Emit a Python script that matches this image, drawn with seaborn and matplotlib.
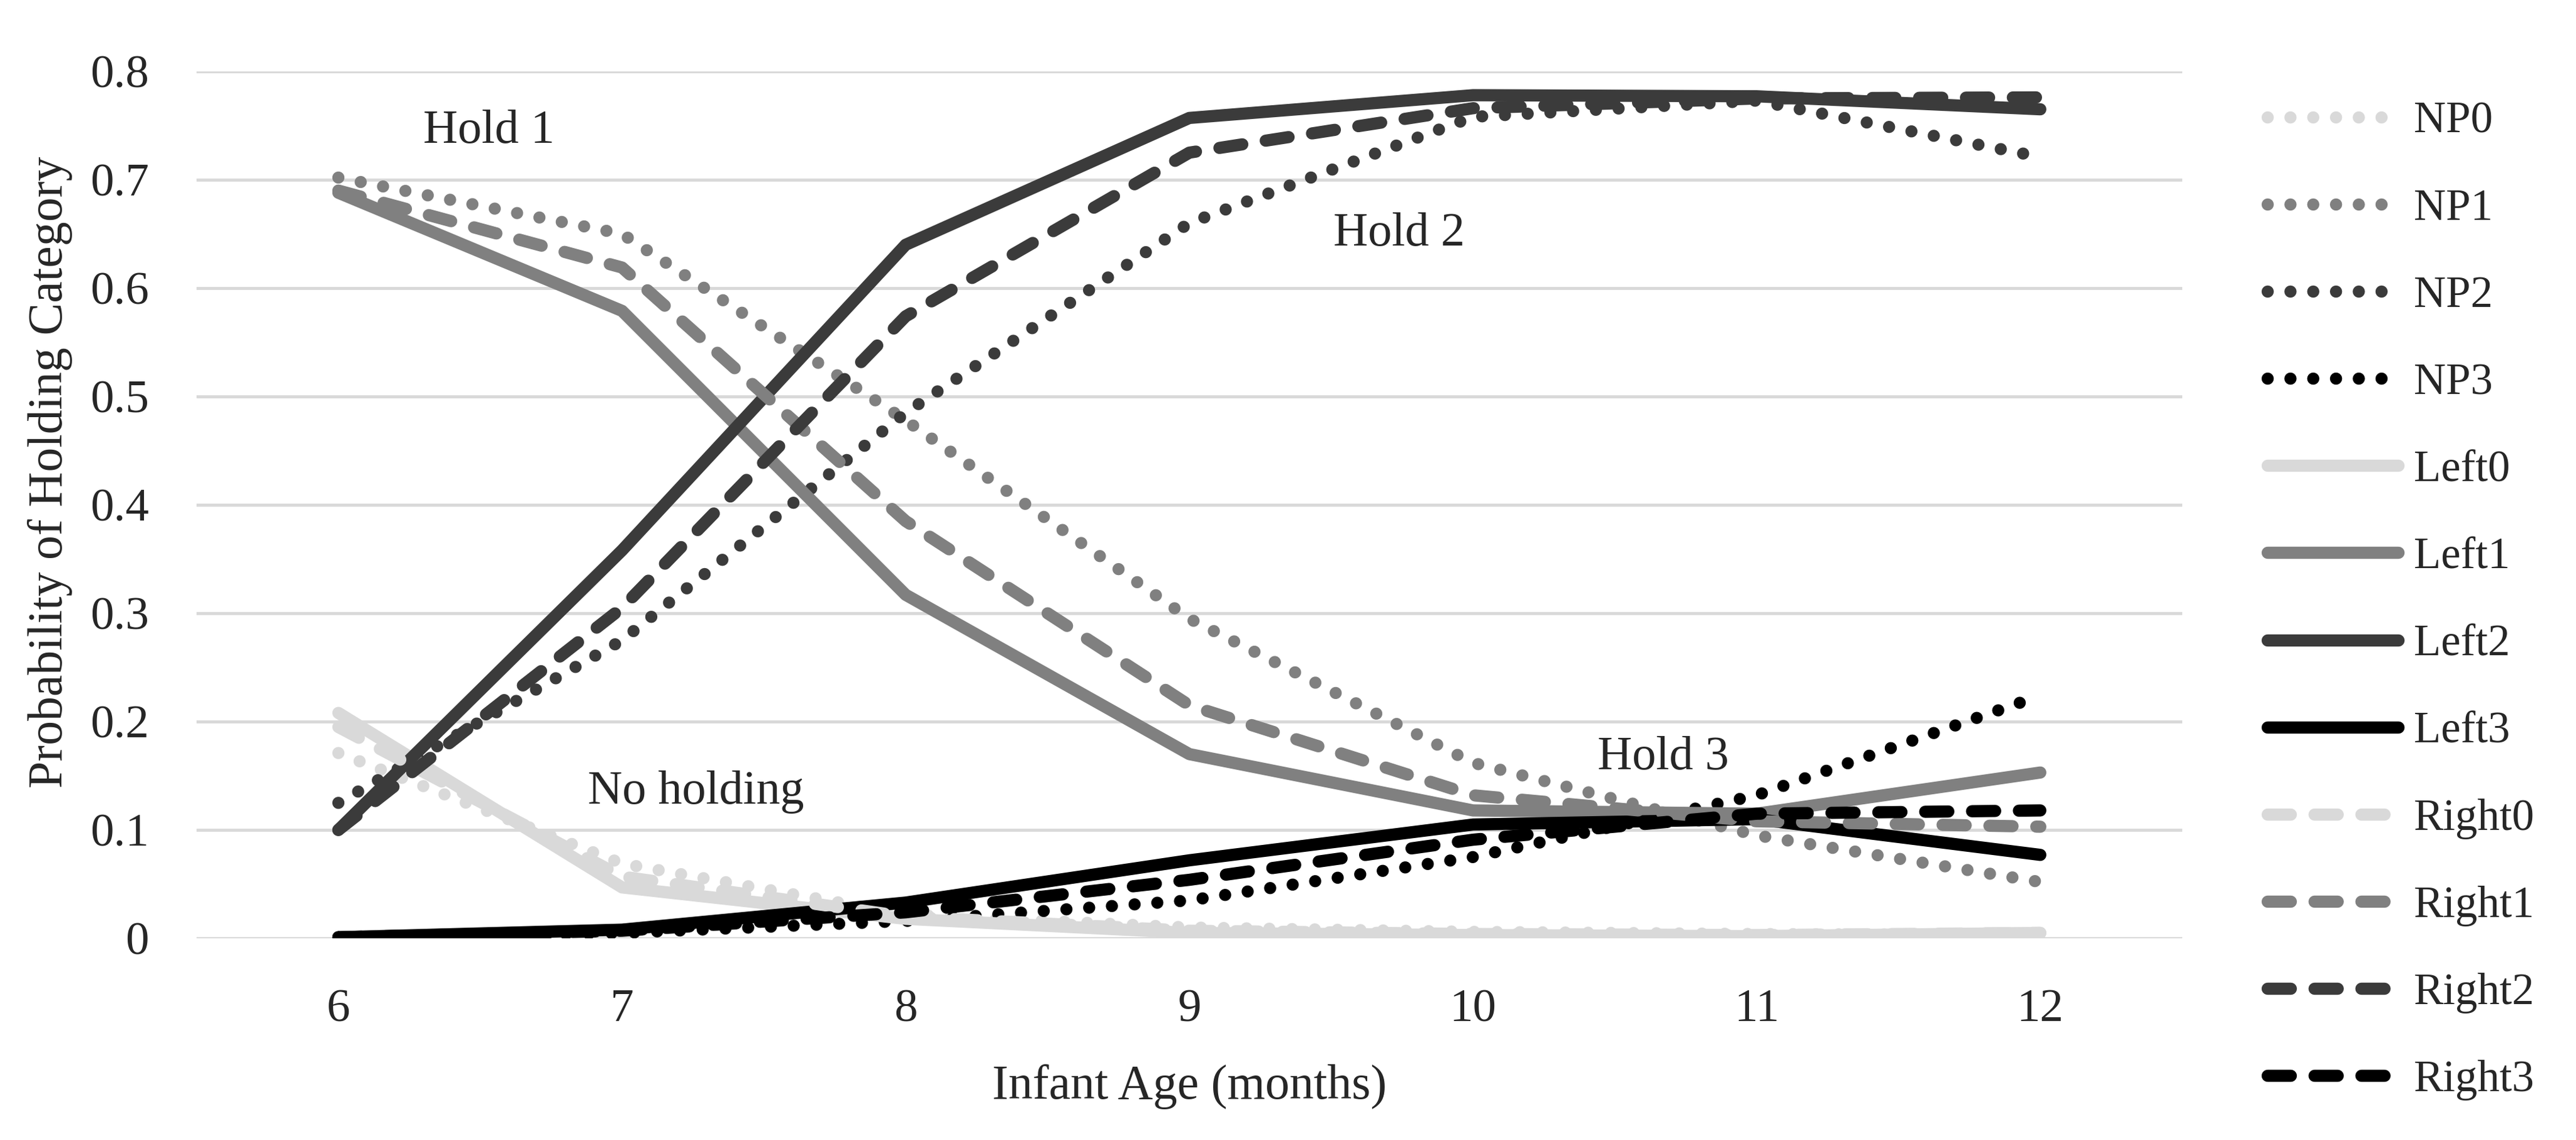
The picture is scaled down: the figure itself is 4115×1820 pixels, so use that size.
import numpy as np
import pandas as pd
import matplotlib
matplotlib.use("Agg")
import matplotlib.pyplot as plt
import seaborn as sns

# ages and predicted probability per holding category
ages = [6, 7, 8, 9, 10, 11, 12]
np0 = [0.171, 0.069, 0.022, 0.010, 0.006, 0.004, 0.003]
np1 = [0.702, 0.650, 0.478, 0.295, 0.162, 0.095, 0.052]
np2 = [0.125, 0.275, 0.485, 0.660, 0.758, 0.773, 0.721]
np3 = [0.001, 0.005, 0.016, 0.035, 0.075, 0.132, 0.224]
left0 = [0.208, 0.047, 0.018, 0.005, 0.003, 0.002, 0.005]
left1 = [0.688, 0.579, 0.317, 0.170, 0.118, 0.115, 0.153]
left2 = [0.100, 0.358, 0.640, 0.757, 0.778, 0.777, 0.765]
left3 = [0.001, 0.008, 0.033, 0.072, 0.105, 0.110, 0.077]
right0 = [0.195, 0.057, 0.020, 0.007, 0.004, 0.003, 0.005]
right1 = [0.690, 0.619, 0.385, 0.215, 0.132, 0.108, 0.103]
right2 = [0.100, 0.305, 0.574, 0.725, 0.766, 0.775, 0.776]
right3 = [0.001, 0.007, 0.024, 0.054, 0.091, 0.115, 0.118]

series_names = ["NP0", "NP1", "NP2", "NP3", "Left0", "Left1", "Left2", "Left3",
                "Right0", "Right1", "Right2", "Right3"]
series_vals = [np0, np1, np2, np3, left0, left1, left2, left3,
               right0, right1, right2, right3]

y_ticks = [0, 0.1, 0.2, 0.3, 0.4, 0.5, 0.6, 0.7, 0.8]
y_ticklabels = ["0", "0.1", "0.2", "0.3", "0.4", "0.5", "0.6", "0.7", "0.8"]

notes = ["Hold 1", "Hold 2", "No holding", "Hold 3"]
note_x = [6.53, 9.74, 7.26, 10.67]
note_y = [0.745, 0.650, 0.135, 0.167]

# long-form table for seaborn
df = pd.DataFrame({
    "age": np.tile(ages, len(series_names)),
    "prob": np.concatenate(series_vals),
    "series": np.repeat(series_names, len(ages)),
})

shades = ["#D9D9D9", "#808080", "#3B3B3B", "#000000"]
palette = {}
dashes = {}
for i, name in enumerate(series_names):
    palette[name] = shades[i % 4]
    if name.startswith("NP"):
        dashes[name] = (0.001, 1.87)
    elif name.startswith("Left"):
        dashes[name] = ""
    else:
        dashes[name] = (1.9, 1.95)

sns.set_style("white")
plt.rcParams["font.family"] = ["Liberation Serif", "DejaVu Serif"]

W, H, DPI = 4115, 1820, 100
fig = plt.figure(figsize=(W / DPI, H / DPI), dpi=DPI)
ax = fig.add_axes([0.0763, 0.1769, 0.7708, 0.7605])

sns.lineplot(data=df, x="age", y="prob", hue="series", style="series",
             hue_order=series_names, style_order=series_names,
             palette=palette, dashes=dashes, linewidth=14,
             estimator=None, sort=False, ax=ax, legend=False)

for line in ax.lines:
    line.set_dash_capstyle("round")
    line.set_solid_capstyle("round")
    line.set_dash_joinstyle("round")
    line.set_solid_joinstyle("round")

ax.set_xlim(5.5, 12.5)
ax.set_ylim(0, 0.8)
ax.set_xticks(ages)
ax.set_xticklabels([str(a) for a in ages])
ax.set_yticks(y_ticks)
ax.set_yticklabels(y_ticklabels)
ax.tick_params(axis="both", length=0, labelsize=54)
ax.tick_params(axis="y", pad=55)
ax.tick_params(axis="x", pad=58)

ax.yaxis.grid(True, color="#D9D9D9", linewidth=3.5)
ax.xaxis.grid(False)
ax.set_axisbelow(True)
for s in ax.spines.values():
    s.set_visible(False)

ax.set_xlabel("Infant Age (months)", fontsize=56)
ax.xaxis.set_label_coords(0.5, -0.145)
ax.set_ylabel("Probability of Holding Category", fontsize=56, va="center")
ax.yaxis.set_label_coords(-0.0738, 0.5376)

for t, xx, yy in zip(notes, note_x, note_y):
    ax.text(xx, yy, t, fontsize=55, ha="center", va="center")

# legend: handle rows centred from y=187 px to y=1717 px (from top)
handles = ax.lines[:len(series_names)]
fs_leg = 51
leg_x = 0.8802
first_row = H - 187
row_step = (1717 - 187) / (len(series_names) - 1)


def make_legend(spacing, top):
    return ax.legend(handles, series_names, loc="upper left",
                     bbox_to_anchor=(leg_x, top), bbox_transform=fig.transFigure,
                     frameon=False, fontsize=fs_leg, handlelength=2.95,
                     handletextpad=0.35, labelspacing=spacing, borderpad=0,
                     borderaxespad=0)


def row_centres(leg):
    fig.canvas.draw()
    r = fig.canvas.get_renderer()
    out = []
    for ln in leg.get_lines():
        bb = ln.get_window_extent(r)
        out.append((bb.y0 + bb.y1) / 2)
    return out


spacing = 1.0
top = 0.93
leg = make_legend(spacing, top)
ys = row_centres(leg)
step_now = (ys[0] - ys[-1]) / (len(ys) - 1)
spacing += (row_step - step_now) / (fs_leg * DPI / 72)
leg = make_legend(spacing, top)
ys = row_centres(leg)
top += (first_row - ys[0]) / H
leg = make_legend(spacing, top)

fig.savefig("out.png", dpi=DPI, facecolor="white")
